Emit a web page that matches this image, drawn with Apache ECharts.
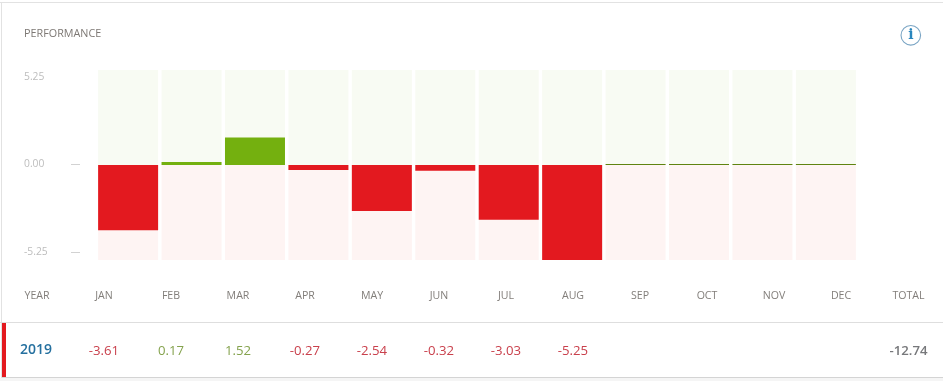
<!DOCTYPE html>
<html>
<head>
<meta charset="utf-8">
<style>html,body{margin:0;padding:0;background:#fff}#c{width:943px;height:381px}</style>
<script src="https://cdn.jsdelivr.net/npm/echarts@6/dist/echarts.min.js"></script>
</head>
<body>
<div id="c"></div>
<script>
const months = ['JAN','FEB','MAR','APR','MAY','JUN','JUL','AUG','SEP','OCT','NOV','DEC'];
const monthValues = [-3.61,0.17,1.52,-0.27,-2.54,-0.32,-3.03,-5.25,null,null,null,null];
const yTicks = [-5.25,0,5.25];
const yearLabel = '2019';
const totalValue = '-12.74';
const title = 'PERFORMANCE';
const yMax = 5.25;

const FONT = '"Open Sans", sans-serif';
const GREEN = '#74b00f', RED = '#e3191f';
const colX = i => 104 + i * 67;

const chart = echarts.init(document.getElementById('c'), null, {renderer:'canvas'});
const gfx = [];
const text = (x,y,t,fill,size,extra) => gfx.push({type:'text',silent:true,x,y,style:Object.assign({text:t,fill,font:`${size}px ${FONT}`,textAlign:'center',textVerticalAlign:'middle'},extra||{})});
const rect = (x,y,width,height,fill) => gfx.push({type:'rect',silent:true,shape:{x,y,width,height},style:{fill}});

// card edges and row
rect(0,2,943,1,'#e2e2e2');
rect(1,2,1,376,'#e2e2e2');
rect(0,322,943,1,'#dedede');
rect(2,377,941,1,'#d4d4d4');
rect(0,378,943,3,'#f5f5f5');
rect(2,323,4,54,RED);

text(24,33.5,title,'#7d7874',10.8,{textAlign:'left'});

// info icon
gfx.push({type:'circle',silent:true,shape:{cx:910.8,cy:35.3,r:9.8},style:{fill:'#fff',stroke:'#7aa5c4',lineWidth:1.1}});
text(910.8,35.8,'i','#2a86bd',14,{font:'bold 14px "DejaVu Serif", serif'});

// table header and row
text(37,295.5,'YEAR','#827e7a',10.6);
months.forEach((m,i)=>text(colX(i),295.5,m,'#827e7a',10.6));
text(908.5,295.5,'TOTAL','#827e7a',10.6);
text(36,350.5,yearLabel,'#25709f',14,{font:`600 14px ${FONT}`});
monthValues.forEach((v,i)=>{
  if(v===null) return;
  text(colX(i),351,v.toFixed(2),v<0?'#c9404c':'#85a34e',13.2);
});
text(908.5,351,totalValue,'#77787b',13.2,{font:`600 13.2px ${FONT}`});

chart.setOption({
  animation:false,
  grid:[
    {left:96.4,width:761.2,top:70,height:190},
    {left:80,width:10,top:77,height:175}
  ],
  xAxis:[
    {type:'category',gridIndex:0,data:months,show:false},
    {type:'value',gridIndex:1,show:false,min:0,max:1}
  ],
  yAxis:[
    {type:'value',gridIndex:0,min:-yMax,max:yMax,show:false},
    {type:'value',gridIndex:1,min:-yMax,max:yMax,
     axisLine:{show:false},splitLine:{show:false},
     axisTick:{show:true,length:9,lineStyle:{color:'#d2d2d2',width:1},customValues:[-5.25,0]},
     axisLabel:{show:true,align:'left',margin:56,color:'#bdbdbd',fontFamily:FONT,fontSize:10.3,
       customValues:yTicks,formatter:v=>Number(v).toFixed(2)}}
  ],
  series:[
    {type:'bar',silent:true,barWidth:60,barGap:'-100%',data:months.map(()=>yMax),itemStyle:{color:'#f8fbf3'}},
    {type:'bar',silent:true,barWidth:60,barGap:'-100%',data:months.map(()=>-yMax),itemStyle:{color:'#fef4f3'}},
    {type:'bar',silent:true,barWidth:60,barGap:'-100%',barMinHeight:1,
     data:monthValues.map(v=>v===null?0:v),
     itemStyle:{color:p=>p.value<0?RED:(p.value===0?'#5f8410':GREEN)}}
  ],
  graphic:gfx
});
</script>
</body>
</html>
